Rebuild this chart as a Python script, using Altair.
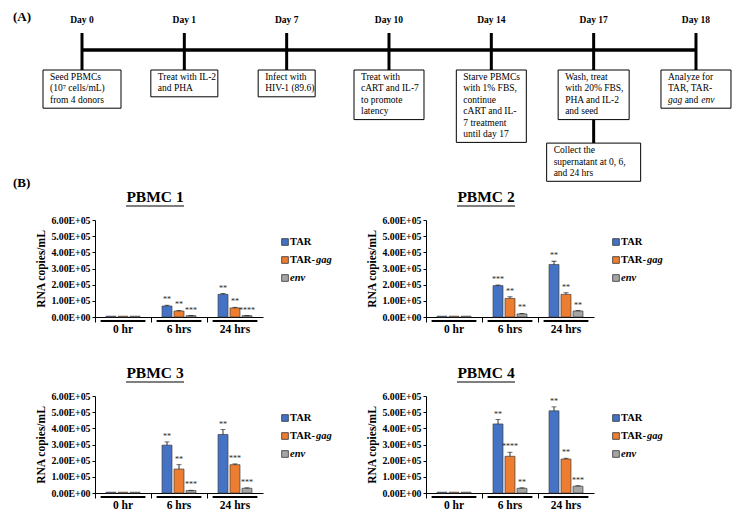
import altair as alt
import pandas as pd

# ---------------- data ----------------
days = ["Day 0", "Day 1", "Day 7", "Day 10", "Day 14", "Day 17", "Day 18"]
steps = [
    "Seed PBMCs\n(10⁷ cells/mL)\nfrom 4 donors",
    "Treat with IL-2\nand PHA",
    "Infect with\nHIV-1 (89.6)",
    "Treat with\ncART and IL-7\nto promote\nlatency",
    "Starve PBMCs\nwith 1% FBS,\ncontinue\ncART and IL-\n7 treatment\nuntil day 17",
    "Wash, treat\nwith 20% FBS,\nPHA and IL-2\nand seed",
    "Analyze for\nTAR, TAR-\n_gag_ and _env_",
]
followup_day = "Day 17"
followup = "Collect the\nsupernatant at 0, 6,\nand 24 hrs"

times = ["0 hr", "6 hrs", "24 hrs"]
series = ["TAR", "TAR-gag", "env"]
colors = ["#4472C4", "#ED7D31", "#A5A5A5"]

pbmc1_tar = [5000, 68000, 140000]
pbmc1_gag = [5000, 37000, 56000]
pbmc1_env = [5000, 8000, 8000]
pbmc1_err = [[0, 5000, 5000], [0, 4000, 4000], [0, 1000, 1000]]
pbmc1_sig = [["", "**", "**"], ["", "**", "**"], ["", "***", "****"]]

pbmc2_tar = [5000, 194000, 325000]
pbmc2_gag = [5000, 115000, 140000]
pbmc2_env = [5000, 19000, 37000]
pbmc2_err = [[0, 4000, 20000], [0, 10000, 10000], [0, 3000, 3000]]
pbmc2_sig = [["", "***", "**"], ["", "**", "**"], ["", "**", "**"]]

pbmc3_tar = [5000, 296000, 362000]
pbmc3_gag = [5000, 148000, 175000]
pbmc3_env = [5000, 15000, 29000]
pbmc3_err = [[0, 20000, 30000], [0, 27000, 5000], [0, 2000, 3000]]
pbmc3_sig = [["", "**", "**"], ["", "**", "***"], ["", "***", "***"]]

pbmc4_tar = [5000, 427000, 508000]
pbmc4_gag = [5000, 227000, 210000]
pbmc4_env = [5000, 29000, 42000]
pbmc4_err = [[0, 27000, 25000], [0, 25000, 5000], [0, 3000, 3000]]
pbmc4_sig = [["", "**", "**"], ["", "****", "**"], ["", "**", "***"]]

# ---------------- timeline layout ----------------
FONT = "Liberation Serif"
TL_W, TL_H = 729, 180
PXU = 102.33                      # pixels per timeline step
X0 = -74 / PXU
xs = alt.Scale(domain=[X0, X0 + TL_W / PXU], nice=False, zero=False)
ys = alt.Scale(domain=[0, TL_H], nice=False, zero=False, reverse=True)
LABEL_Y, TICK_TOP, LINE_Y, BOX_TOP = 12, 25, 42, 62
LINE_H, BOX_PAD, FIRST, TXT_DX, CHAR_W, SPACE_W = 11.4, 4, 7, 7, 4.75, 2.4
box_w = [78, 67, 57, 70, 70, 71, 70]
follow_w, follow_gap = 94, 23.5

box_rows, line_rows = [], []


def add_box(i, text, w, top):
    lines = text.split("\n")
    bottom = top + BOX_PAD + LINE_H * len(lines)
    xl = i - w / 2 / PXU
    box_rows.append(dict(xl=xl, xr=i + w / 2 / PXU, top=top, bottom=bottom))
    for k, ln in enumerate(lines):
        off = 0.0
        for j, seg in enumerate(ln.split("_")):
            if not seg:
                continue
            core = seg.strip()
            lead = len(seg) - len(seg.lstrip())
            trail = len(seg) - len(seg.rstrip())
            off += lead * SPACE_W
            if core:
                line_rows.append(dict(x=xl + (TXT_DX + off) / PXU,
                                      y=top + FIRST + k * LINE_H, t=core, it=j % 2 == 1))
            off += len(core) * CHAR_W + trail * SPACE_W
    return bottom


bottoms = [add_box(i, s, box_w[i], BOX_TOP) for i, s in enumerate(steps)]
fi = days.index(followup_day)
ftop = bottoms[fi] + follow_gap
add_box(fi, followup, follow_w, ftop)

days_df = pd.DataFrame({"i": list(range(len(days))), "day": days,
                        "y": LABEL_Y, "t0": TICK_TOP, "t1": BOX_TOP})
boxes_df = pd.DataFrame(box_rows)
lines_df = pd.DataFrame(line_rows)

X = lambda f: alt.X(f, scale=xs, axis=None)
Y = lambda f: alt.Y(f, scale=ys, axis=None)

tl_line = alt.Chart(pd.DataFrame({"a": [0], "b": [len(days) - 1], "y": [LINE_Y]})).mark_rule(
    color="black", strokeWidth=3.5).encode(x=X("a:Q"), x2="b:Q", y=Y("y:Q"))
tl_ticks = alt.Chart(days_df).mark_rule(color="black", strokeWidth=3).encode(
    x=X("i:Q"), y=Y("t0:Q"), y2="t1:Q")
tl_conn = alt.Chart(pd.DataFrame({"i": [fi], "a": [bottoms[fi]], "b": [ftop]})).mark_rule(
    color="black", strokeWidth=3).encode(x=X("i:Q"), y=Y("a:Q"), y2="b:Q")
tl_labels = alt.Chart(days_df).mark_text(font=FONT, fontSize=9.5, fontWeight="bold").encode(
    x=X("i:Q"), y=Y("y:Q"), text="day:N")
tl_boxes = alt.Chart(boxes_df).mark_rect(fill="white", stroke="black", strokeWidth=1).encode(
    x=X("xl:Q"), x2="xr:Q", y=Y("top:Q"), y2="bottom:Q")
tl_text = alt.Chart(lines_df).mark_text(font=FONT, fontSize=9.5, align="left", baseline="middle").encode(
    x=X("x:Q"), y=Y("y:Q"), text="t:N").transform_filter("!datum.it")
tl_text_i = alt.Chart(lines_df).mark_text(font=FONT, fontSize=9.5, align="left", baseline="middle",
                                         fontStyle="italic").encode(
    x=X("x:Q"), y=Y("y:Q"), text="t:N").transform_filter("datum.it")
panel_lab = alt.Chart(pd.DataFrame({"x": [X0 + 5 / PXU] * 2, "y": [9, 175], "t": ["(A)", "(B)"]})).mark_text(
    font=FONT, fontSize=13, fontWeight="bold", align="left", baseline="middle").encode(
    x=X("x:Q"), y=Y("y:Q"), text="t:N")

timeline = alt.layer(tl_line, tl_ticks, tl_conn, tl_boxes, tl_text, tl_text_i, tl_labels,
                     panel_lab).properties(width=TL_W, height=TL_H)

# ---------------- bar panels ----------------
PW, PH = 168, 97
LEG_W = 73

yaxis = alt.Axis(values=[0, 100000, 200000, 300000, 400000, 500000, 600000],
                 labelExpr="replace(format(datum.value, '.2e'), 'e+', 'E+0')",
                 title="RNA copies/mL", titleFont=FONT, titleFontSize=11.5, titleFontWeight="bold",
                 titleColor="black", titlePadding=4,
                 labelFont=FONT, labelFontSize=9.8, labelFontWeight="bold", labelColor="black",
                 domainColor="black", tickColor="black", tickSize=3, grid=False)
xaxis = alt.Axis(title=None, labelAngle=0, labelFont=FONT, labelFontSize=11.5, labelFontWeight="bold",
                 labelColor="black", domainColor="black", tickColor="black", tickSize=5,
                 labelPadding=1, bandPosition=0)
yscale = alt.Scale(domain=[0, 600000], nice=False)


def BX():
    return alt.X("time:N", sort=times, scale=alt.Scale(paddingInner=0, paddingOuter=0), axis=xaxis)


def BO():
    return alt.XOffset("series:N", sort=series, scale=alt.Scale(paddingInner=0.17, paddingOuter=0.92))


def BY(f):
    return alt.Y(f, scale=yscale, axis=yaxis)


def panel(name, tar, gag, env, err, sig):
    rows = []
    for s, vals, e, sg in zip(series, [tar, gag, env], err, sig):
        for t, v, ee, ss in zip(times, vals, e, sg):
            rows.append(dict(time=t, series=s, value=v, err=ee, top=v + ee, sig=ss))
    df = pd.DataFrame(rows)
    bars = alt.Chart(df).mark_bar(stroke="#404040", strokeWidth=0.7).encode(
        x=BX(), xOffset=BO(), y=BY("value:Q"),
        color=alt.Color("series:N", scale=alt.Scale(domain=series, range=colors), legend=None))
    errs = alt.Chart(df).transform_filter("datum.err > 0").mark_rule(color="black", strokeWidth=0.8).encode(
        x=BX(), xOffset=BO(), y=BY("value:Q"), y2="top:Q")
    caps = alt.Chart(df).transform_filter("datum.err > 0").mark_tick(
        color="black", thickness=0.8, size=5, orient="horizontal").encode(
        x=BX(), xOffset=BO(), y=BY("top:Q"))
    sigs = alt.Chart(df).mark_text(font=FONT, fontSize=8, baseline="bottom", dy=-1, color="#222").encode(
        x=BX(), xOffset=BO(), y=BY("top:Q"), text="sig:N")
    under = alt.Chart(pd.DataFrame({"time": times})).mark_bar(
        color="black", width={"band": 0.8}).encode(
        x=BX(), y=alt.value(PH + 3), y2=alt.value(PH + 5))
    ttl = alt.Chart(pd.DataFrame({"t": [name]})).mark_text(
        font=FONT, fontSize=15.5, fontWeight="bold", baseline="middle").encode(
        x=alt.value(60), y=alt.value(-23), text="t:N")
    ttl_u = alt.Chart(pd.DataFrame({"t": [name]})).mark_rule(color="black", strokeWidth=1.2).encode(
        x=alt.value(31), x2=alt.value(89), y=alt.value(-14))
    chart = alt.layer(bars, errs, caps, sigs, under, ttl, ttl_u).properties(width=PW, height=PH)

    leg_df = pd.DataFrame({"series": series, "n": ["TAR", "TAR-", ""], "it": ["", "gag", "env"],
                           "ix": [12, 12 + 26, 12]})
    LY = alt.Y("series:N", sort=series, scale=alt.Scale(range=[22, 58], padding=0), axis=None)
    sq = alt.Chart(leg_df).mark_square(size=45, opacity=1, stroke="#333", strokeWidth=0.8).encode(
        x=alt.value(7), y=LY,
        color=alt.Color("series:N", scale=alt.Scale(domain=series, range=colors), legend=None))
    ln = alt.Chart(leg_df).mark_text(font=FONT, fontSize=10.5, fontWeight="bold", align="left",
                                     baseline="middle").encode(x=alt.value(12), y=LY, text="n:N")
    li = alt.Chart(leg_df).mark_text(font=FONT, fontSize=10.5, fontWeight="bold", fontStyle="italic",
                                     align="left", baseline="middle").encode(
        x=alt.X("ix:Q", scale=alt.Scale(domain=[0, LEG_W], nice=False, zero=False), axis=None),
        y=LY, text="it:N")
    legend = alt.layer(sq, ln, li).properties(width=LEG_W, height=PH)
    return chart, legend


def spacer():
    return alt.Chart(pd.DataFrame({"a": [0]})).mark_point(opacity=0, size=4).encode(
        x=alt.value(6), y=alt.value(40)).properties(width=12, height=PH)


p1, l1 = panel("PBMC 1", pbmc1_tar, pbmc1_gag, pbmc1_env, pbmc1_err, pbmc1_sig)
p2, l2 = panel("PBMC 2", pbmc2_tar, pbmc2_gag, pbmc2_env, pbmc2_err, pbmc2_sig)
p3, l3 = panel("PBMC 3", pbmc3_tar, pbmc3_gag, pbmc3_env, pbmc3_err, pbmc3_sig)
p4, l4 = panel("PBMC 4", pbmc4_tar, pbmc4_gag, pbmc4_env, pbmc4_err, pbmc4_sig)

row1 = alt.hconcat(spacer(), p1, l1, p2, l2, spacing=15)
row2 = alt.hconcat(spacer(), p3, l3, p4, l4, spacing=15)
rows = alt.vconcat(row1, row2, spacing=31)

chart = alt.vconcat(timeline, rows, spacing=0).properties(padding=0).configure(
    font=FONT, view=alt.ViewConfig(stroke=None))

chart.save("out.html", embed_options={"renderer": "svg", "actions": False})
